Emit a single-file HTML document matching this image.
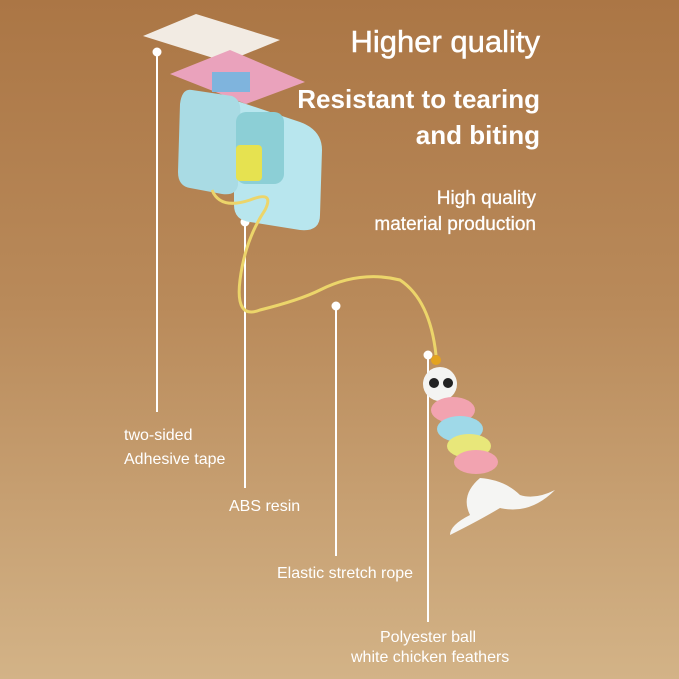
<!DOCTYPE html>
<html><head><style>
body{margin:0;width:679px;height:679px;overflow:hidden;font-family:"Liberation Sans",sans-serif}
.bg{position:absolute;left:0;top:0;width:679px;height:679px;background:linear-gradient(180deg,#ab7645 0%,#b98a5a 45%,#d3b387 100%)}
.t{position:absolute;color:#fff;white-space:nowrap}
</style></head><body>
<div class="bg"></div>
<svg width="679" height="679" style="position:absolute;left:0;top:0">
<g stroke="#fff" stroke-width="2" fill="#fff">
<line x1="157" y1="52" x2="157" y2="412"/><circle cx="157" cy="52" r="3.5"/>
<line x1="245" y1="222" x2="245" y2="488"/><circle cx="245" cy="222" r="3.5"/>
<line x1="336" y1="306" x2="336" y2="556"/><circle cx="336" cy="306" r="3.5"/>
<line x1="428" y1="355" x2="428" y2="622"/><circle cx="428" cy="355" r="3.5"/>
</g>
<polygon points="143,36 196,14 280,40 226,62" fill="#f2ebe3"/>
<polygon points="170,74 230,50 305,82 246,104" fill="#eaa2bc"/>
<rect x="212" y="72" width="38" height="20" fill="#7fb4dd"/>
<path d="M234,100 L300,122 Q322,130 322,150 L320,215 Q320,232 300,230 L250,222 Q234,220 234,205 Z" fill="#b8e6ee"/>
<path d="M192,90 L232,96 Q242,100 240,115 L238,185 Q236,196 222,194 L190,188 Q178,186 178,172 L180,104 Q182,88 192,90Z" fill="#a9dbe4"/>
<rect x="236" y="112" width="48" height="72" rx="10" fill="#8ccfd6"/>
<rect x="236" y="145" width="26" height="36" rx="4" fill="#e6e250"/>
<path d="M212,190 Q220,210 250,200 Q275,190 265,210 Q245,240 240,280 Q235,320 260,310 Q300,300 320,290 Q360,270 400,280 Q430,300 436,355" stroke="#ecd56a" stroke-width="3" fill="none"/>
<circle cx="436" cy="360" r="5" fill="#e3a320"/>
<circle cx="440" cy="384" r="17" fill="#f4f4f2"/>
<circle cx="434" cy="383" r="5" fill="#222"/><circle cx="448" cy="383" r="5" fill="#222"/>
<ellipse cx="453" cy="410" rx="22" ry="13" fill="#f2a3b0"/>
<ellipse cx="460" cy="429" rx="23" ry="13" fill="#9fd9e8"/>
<ellipse cx="469" cy="446" rx="22" ry="12" fill="#e8e77a"/>
<ellipse cx="476" cy="462" rx="22" ry="12" fill="#f2a3b0"/>
<path d="M480,478 Q460,495 470,515 Q450,525 450,535 Q480,520 500,508 Q530,515 555,490 Q535,500 520,495 Q505,480 480,478Z" fill="#f5f5f3"/>
</svg>
<div class="t" style="right:139px;top:24px;font-size:31px;-webkit-text-stroke:0.5px #fff">Higher quality</div>
<div class="t" style="right:139px;top:84px;font-size:26px;font-weight:bold">Resistant to tearing</div>
<div class="t" style="right:139px;top:120px;font-size:26px;font-weight:bold">and biting</div>
<div class="t" style="right:143px;top:188px;font-size:19px;-webkit-text-stroke:0.3px #fff">High quality</div>
<div class="t" style="right:143px;top:214px;font-size:19px;-webkit-text-stroke:0.3px #fff">material production</div>
<div class="t" style="left:124px;top:427px;font-size:16px">two-sided</div>
<div class="t" style="left:124px;top:451px;font-size:16px">Adhesive tape</div>
<div class="t" style="left:229px;top:498px;font-size:16px">ABS resin</div>
<div class="t" style="left:277px;top:565px;font-size:16px">Elastic stretch rope</div>
<div class="t" style="left:380px;top:629px;font-size:16px">Polyester ball</div>
<div class="t" style="left:351px;top:649px;font-size:16px">white chicken feathers</div>
</body></html>
